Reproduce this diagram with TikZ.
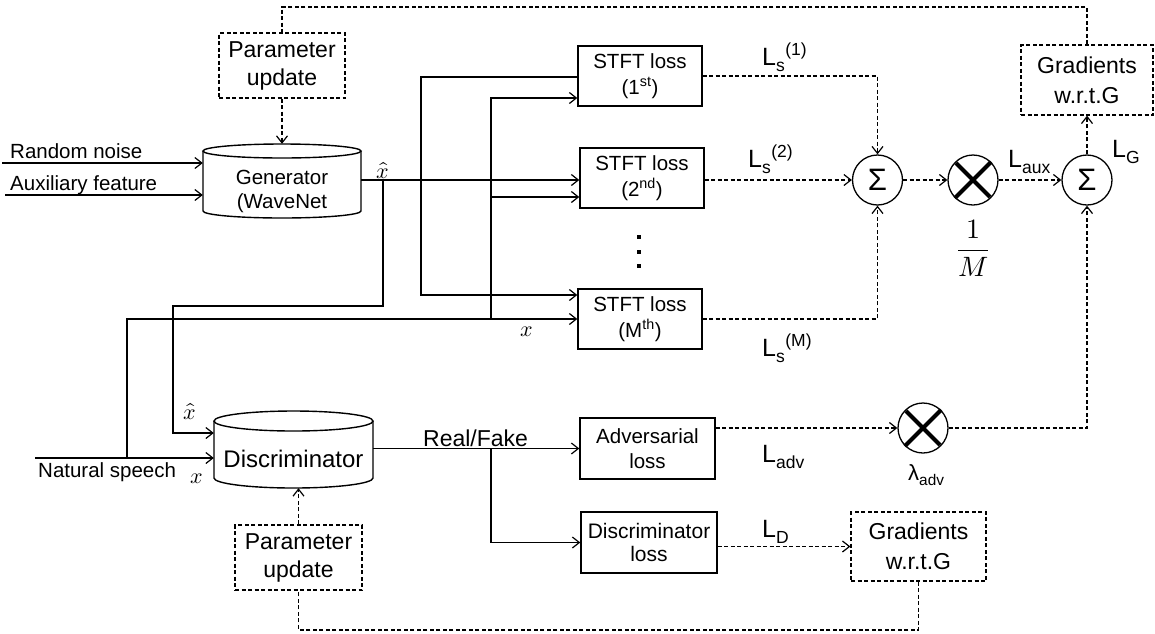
\documentclass[tikz,border=0pt]{standalone}
\usepackage{fontspec}
\usepackage{unicode-math}
\setmainfont{Liberation Sans}
\usetikzlibrary{arrows.meta}
\newcommand{\fsz}[2]{\fontsize{#1}{#2}\selectfont}
\newcommand{\Lsym}[2]{L\textsubscript{#1}\textsuperscript{#2}}
\begin{document}
\begin{tikzpicture}[x=1pt,y=-1pt,
  solidbox/.style={draw,line width=1.4pt,inner sep=0pt,align=center,font=\fsz{20.5}{26}},
  dashbox/.style={solidbox,line width=1.2pt,dash pattern=on 4pt off 2.5pt},
  cylbody/.style={line width=1.4pt},
  conn/.style={line width=1.2pt},
  dconn/.style={line width=1.1pt,dash pattern=on 4pt off 2.5pt},
  tip/.style={-{Straight Barb[length=7pt,width=11pt,line width=1.2pt]}},
  opnode/.style={circle,draw,line width=1.3pt,minimum size=50pt,inner sep=0pt},
  sumnode/.style={opnode,font=\fsz{31}{31}},
  txt/.style={inner sep=0pt,font=\fsz{20.5}{24}},
  bigtxt/.style={inner sep=0pt,font=\fsz{23}{27}},
  losstxt/.style={inner sep=0pt,font=\fsz{25}{29}},
  sym/.style={inner sep=0pt,font=\fsz{22}{22}},
]
\useasboundingbox (0,0) rectangle (1155,633);

% ---------- generator side ----------
\node[dashbox,font=\fsz{23}{28},minimum width=126pt,minimum height=65pt] (pu1) at (282,65.5) {Parameter\\update};
\node[inner sep=0pt,minimum width=158pt,minimum height=74pt] (gen) at (282,181) {};
\draw[cylbody] (203,151) -- (203,211) arc[start angle=180,end angle=0,x radius=79,y radius=7] -- (361,151);
\draw[cylbody] (282,151) ellipse[x radius=79,y radius=7];
\node[txt,align=center,font=\fsz{20.5}{24}] (gentxt) at (282,191) {Generator\\(WaveNet};

% ---------- STFT losses ----------
\node[solidbox,minimum width=124pt,minimum height=60pt] (stft1) at (640,76) {STFT loss\\(1\textsuperscript{st})};
\node[solidbox,minimum width=124pt,minimum height=60pt] (stft2) at (642,178) {STFT loss\\(2\textsuperscript{nd})};
\node[solidbox,minimum width=124pt,minimum height=60pt] (stftM) at (640,319) {STFT loss\\(M\textsuperscript{th})};
\foreach \yy in {235,250,264} \fill (637,\yy) rectangle ++(4,4);

% ---------- combination of losses ----------
\node[sumnode] (sum1) at (877.5,180) {Σ};
\node[opnode] (mul1) at (973,180) {};
\node[sumnode] (sum2) at (1087,180) {Σ};
\node[dashbox,font=\fsz{23}{30},minimum width=132pt,minimum height=70pt] (grad1) at (1087,80) {Gradients\\w.r.t.G};

% ---------- discriminator side ----------
\node[inner sep=0pt,minimum width=159pt,minimum height=77pt] (disc) at (293.5,449.5) {};
\draw[cylbody] (214,421) -- (214,478) arc[start angle=180,end angle=0,x radius=79.5,y radius=10] -- (373,421);
\draw[cylbody] (293.5,421) ellipse[x radius=79.5,y radius=10];
\node[inner sep=0pt,font=\fsz{24}{28}] (disctxt) at (293.5,459) {Discriminator};
\node[dashbox,font=\fsz{23}{28},minimum width=127pt,minimum height=65pt] (pu2) at (298.5,557.5) {Parameter\\update};
\node[solidbox,font=\fsz{20.5}{25},minimum width=135pt,minimum height=61pt] (adv) at (647.5,448.5) {Adversarial\\loss};
\node[solidbox,font=\fsz{21}{23},minimum width=136pt,minimum height=61pt] (dloss) at (649,542.5) {Discriminator\\loss};
\node[opnode] (mul2) at (923,428) {};
\node[dashbox,font=\fsz{23}{30},minimum width=135pt,minimum height=69pt] (grad2) at (918.5,546.5) {Gradients\\w.r.t.G};

% multiplier crosses
\foreach \m in {mul1,mul2}
  \draw[line width=4pt,shorten <=1.5pt,shorten >=1.5pt] (\m.45) -- (\m.225) (\m.135) -- (\m.315);

% ---------- solid signal paths ----------
\coordinate (rn) at (2,163);
\coordinate (af) at (5,195);
\draw[conn,tip] (rn) -- (rn -| gen.west);
\draw[conn,tip] (af) -- (af -| gen.west);
\coordinate (gout) at (gen.east |- 0,180);
\draw[conn,tip] (gout) -- (gout -| stft2.west);
\coordinate (xh) at (383,180);
\draw[conn,tip] (xh) |- (173,306) |- (disc.west |- 0,433);
\draw[conn,tip] (stft1.west |- 0,77) -| (421,295) -- (stftM.west |- 0,295);
\draw[conn,tip] (491,319) |- (stft1.west |- 0,98);
\draw[conn,tip] (491,197) -- (stft2.west |- 0,197);
\coordinate (ns) at (35,458);
\draw[conn,tip] (ns) -- (ns -| disc.west);
\draw[conn,tip] (127,458) |- (stftM.west |- 0,319);
\draw[conn,tip] (disc.east |- adv.west) -- (adv.west);
\draw[conn,tip] (491,448.5) |- (dloss.west);

% ---------- dashed loss / gradient paths ----------
\draw[dconn] (grad1.north) -- (grad1.north |- 0,7) -| (pu1.north);
\draw[dconn,tip] (pu1.south) -- (gen.north);
\draw[dconn,tip] (stft1.east) -| (sum1.north);
\draw[dconn,tip] (stft2.east |- sum1.west) -- (sum1.west);
\draw[dconn,tip] (stftM.east) -| (sum1.south);
\draw[dconn,tip] (sum1.east) -- (mul1.west);
\draw[dconn,tip] (mul1.east) -- (sum2.west);
\draw[dconn,tip] (sum2.north) -- (grad1.south);
\draw[dconn,tip] (adv.east |- mul2.west) -- (mul2.west);
\draw[dconn,tip] (mul2.east) -| (sum2.south);
\draw[dconn,tip] (dloss.east |- grad2.west) -- (grad2.west);
\draw[dconn] (grad2.south) -- (grad2.south |- 0,630) -| (pu2.south);
\draw[dconn,tip] (pu2.north) -- (pu2.north |- disc.south);

% ---------- labels ----------
\node[txt,anchor=base west] (lrn) at (10,158) {Random noise};
\node[txt,anchor=base west] (laf) at (10,190) {Auxiliary feature};
\node[txt,anchor=base west] (lns) at (38,477) {Natural speech};
\node[bigtxt,anchor=base west] (lrf) at (423,446) {Real/Fake};
\node[sym] (lxh1) at (383,171) {$\hat{x}$};
\node[sym] (lxh2) at (190,412) {$\hat{x}$};
\node[sym] (lx1) at (197,479) {$x$};
\node[sym] (lx2) at (527,332) {$x$};
\node[losstxt,anchor=base west] (ls1) at (762,65) {\Lsym{s}{(1)}};
\node[losstxt,anchor=base west] (ls2) at (748,167) {\Lsym{s}{(2)}};
\node[losstxt,anchor=base west] (lsm) at (762,356) {\Lsym{s}{(M)}};
\node[losstxt,anchor=base west] (laux) at (1008,167) {L\textsubscript{aux}};
\node[losstxt,anchor=base west] (lg) at (1112,157) {L\textsubscript{G}};
\node[losstxt,anchor=base west] (ladv) at (762,462) {L\textsubscript{adv}};
\node[losstxt,anchor=base west] (ld) at (762,537) {L\textsubscript{D}};
\node[txt,anchor=base west,font=\fsz{22}{26}] (lam) at (908,480) {λ\textsubscript{adv}};
\node[inner sep=0pt,font=\fsz{28}{32}] (frac) at (973,248) {$\displaystyle\frac{1}{M}$};
\end{tikzpicture}
\end{document}
